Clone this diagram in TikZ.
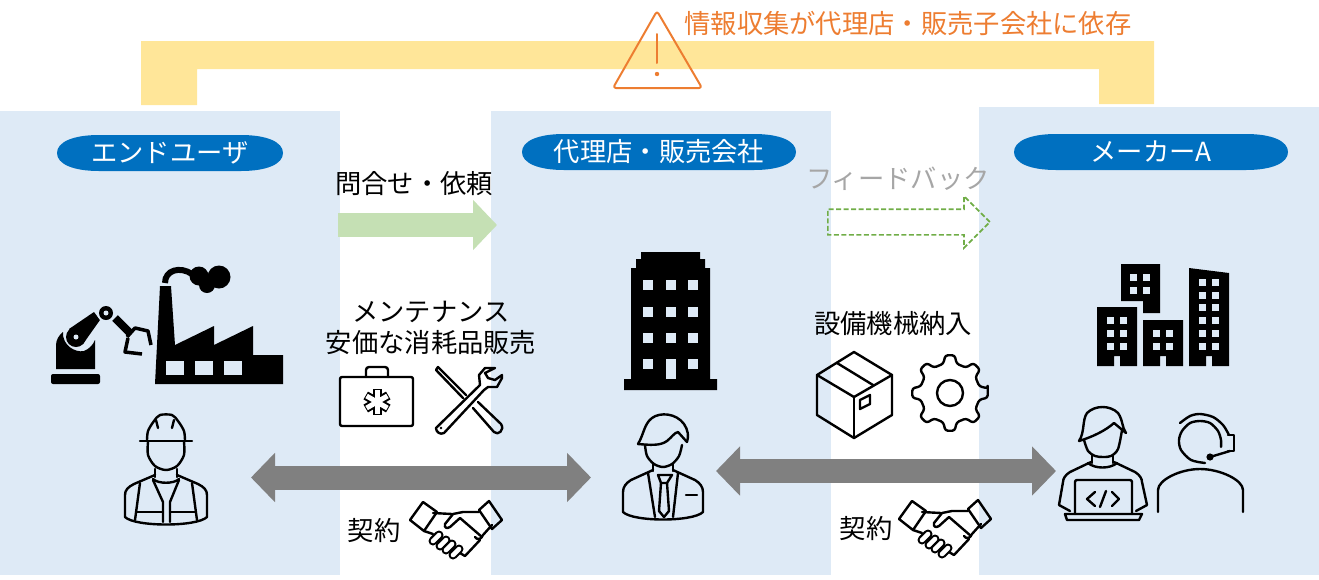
\documentclass[tikz,border=0pt]{standalone}
\usepackage{fontspec}
\setmainfont{Noto Sans CJK JP}
\usetikzlibrary{positioning,arrows.meta,shapes.arrows}
\definecolor{panelblue}{HTML}{DEEAF6}
\definecolor{pillblue}{HTML}{0070C0}
\definecolor{bandyellow}{HTML}{FFE699}
\definecolor{warnorange}{HTML}{ED7D31}
\definecolor{askgreen}{HTML}{C5E0B4}
\definecolor{dashgreen}{HTML}{70AD47}
\definecolor{linkgray}{HTML}{808080}
\definecolor{fadedgray}{HTML}{A6A6A6}
\tikzset{
handshake/.pic={
\draw[iconline] (10,30) -- (23,12) -- (37,22) -- (24,41) -- cycle;
\draw[iconline] (79,20) -- (89,11) -- (102,30) -- (92,39) -- cycle;
\draw[iconline] (33,23) -- (52,24);
\draw[iconline] (79,22) -- (63,22) -- (53,24) -- (45,34) .. controls (44,38) and (47,39) .. (50,37) -- (60,28) -- (82,47);
\draw[iconline] (92,35) -- (83,45) .. controls (81,50) and (77,50) .. (75,47);
\draw[iconline] (80,50) -- (65,66) -- (60,63);
\draw[iconline] (24,41) -- (33,44);
\foreach \fx/\fy in {36/48,43/53,49/57,56/62} {
\draw[line width=9pt,line cap=round] (\fx-3,\fy+3) -- (\fx+3,\fy-3);
\draw[line width=4.6pt,line cap=round,white] (\fx-3,\fy+3) -- (\fx+3,\fy-3);
}
}
}
\begin{document}
\begin{tikzpicture}[
x=1pt, y=-1pt,
node distance = 8pt and 32pt,
panel/.style={rectangle, fill=panelblue, inner sep=0pt, minimum width=340pt, minimum height=464pt},
pill/.style={rectangle, inner sep=0pt, minimum height=36pt, text=white, font=\fontsize{26.3}{31}\selectfont,
path picture={\fill[pillblue] (path picture bounding box.west)
.. controls ([yshift=11pt]path picture bounding box.west) and ([xshift=16pt]path picture bounding box.north west) .. ([xshift=42pt]path picture bounding box.north west)
-- ([xshift=-42pt]path picture bounding box.north east)
.. controls ([xshift=-16pt]path picture bounding box.north east) and ([yshift=11pt]path picture bounding box.east) .. (path picture bounding box.east)
.. controls ([yshift=-11pt]path picture bounding box.east) and ([xshift=-16pt]path picture bounding box.south east) .. ([xshift=-42pt]path picture bounding box.south east)
-- ([xshift=42pt]path picture bounding box.south west)
.. controls ([xshift=16pt]path picture bounding box.south west) and ([yshift=-11pt]path picture bounding box.west) .. (path picture bounding box.west);}},
caption/.style={inner sep=0pt, align=center, font=\fontsize{26.3}{31}\selectfont},
twoway/.style={line width=24pt, linkgray, {Triangle[width=48pt,length=24pt]}-{Triangle[width=48pt,length=24pt]}},
askarrow/.style={line width=24pt, askgreen, -{Triangle[width=49pt,length=24pt]}},
feedarrow/.style={single arrow, draw=dashgreen, line width=1.7pt, dash pattern=on 5pt off 2.5pt, inner xsep=0pt, inner ysep=12pt,
minimum height=162pt, minimum width=50pt, single arrow head extend=13pt},
iconline/.style={line width=2.4pt, line join=round, line cap=round},
warnline/.style={line width=2pt, warnorange, line join=round, line cap=round}]

\useasboundingbox (0,0) rectangle (1319,579);

% panels and the band over them
\node[panel] (userpanel) at (170,343) {};
\node[panel] (dealerpanel) [right = 151pt of userpanel] {};
\node[panel, minimum height=468pt] (makerpanel) at (1149,341) {};
\fill[bandyellow] (141,105) -- (141,41) -- (1154,41) -- (1154,104) -- (1099,104) -- (1099,69) -- (197,69) -- (197,105) -- cycle;

\node[pill, minimum width=226pt] (usertitle) at (170,153) {エンドユーザ};
\node[pill, minimum width=274pt] (dealertitle) at (659,152) {代理店・販売会社};
\node[pill, minimum width=274pt] (makertitle) at (1151,152) {メーカーA};

\node[caption, warnorange] (warntext) at (908,23) {情報収集が代理店・販売子会社に依存};
\node[caption] (asktext) at (414,184) {問合せ・依頼};
\node[caption, fadedgray] (feedtext) at (898,179) {フィードバック};
\node[caption] (maintext) at (431,328) {メンテナンス\\安価な消耗品販売};
\node[caption] (supplytext) at (893,324) {設備機械納入};
\node[caption] (leftdeal) at (374,531) {契約};
\node[caption] (rightdeal) at (866,529) {契約};

% arrows
\coordinate (askstart) at (338,225);
\coordinate (askend) at (497,225);
\draw[askarrow] (askstart) -- (askend);
\node[feedarrow, anchor=tail] (feedback) at (827,222) {};
\coordinate (userlink) at (251,477.5);
\coordinate (dealerleft) at (591,477.5);
\coordinate (dealerright) at (716,471);
\coordinate (makerlink) at (1056,471);
\draw[twoway] (userlink) -- (dealerleft);
\draw[twoway] (dealerright) -- (makerlink);

% warning sign
\draw[warnline, rounded corners=3pt] (657,11) -- (702,88) -- (613,88) -- cycle;
\draw[warnline] (657,34) -- (657,63);
\fill[warnorange] (657,74) circle (2.2pt);

% robot arm
\fill[rounded corners=2pt] (51,384) rectangle (100,374);
\fill (56,369) -- (56,345) .. controls (56,340) and (59,335) .. (63,332) .. controls (62,345) and (75,353) .. (84,351) .. controls (89,349) and (93,345) .. (95,340) -- (95,369) -- cycle;
\fill (69,329) -- (94,312) -- (100,320) -- (83,344) -- cycle;
\fill (76,337) circle (10pt);
\fill[panelblue] (76,337) circle (2.5pt);
\fill[panelblue] (106,313) circle (9pt);
\fill (106,313) circle (7pt);
\fill[panelblue] (106,313) circle (2.5pt);
\draw[line width=8pt] (115,318) -- (130,333);
\draw[line width=3.5pt, line join=round] (127,337) -- (135,328) -- (148,331) -- (151,345);
\draw[line width=3.5pt, line join=round] (128,338) -- (125,352) -- (142,354);

% factory
\fill (155,384) -- (160,286) -- (171,286) -- (175,345) -- (214,326) -- (214,345) -- (253,326) -- (253,355) -- (283,355) -- (283,384) -- cycle;
\foreach \wx in {166,195,224} \fill[panelblue] (\wx,361) rectangle +(18,14);
\draw[line width=6pt] (165,283) .. controls (165,270) and (180,266) .. (192,274);
\fill (199,276) circle (9.5pt);
\fill (219,277) circle (11.5pt);
\fill (207,285) circle (8pt);

% worker
\draw[iconline] plot[smooth] coordinates {(147,441) (148,431) (154,421) (160,415) (172,415) (178,421) (184,431) (185,441)};
\draw[iconline] (140,441) -- (192,441);
\draw[iconline] (158,428) -- (156,420);
\draw[iconline] (172,428) -- (174,420);
\draw[iconline] plot[smooth] coordinates {(148,442) (148,455) (155,466) (166,470) (177,466) (184,455) (184,442)};
\draw[iconline] (155,469) -- (155,477);
\draw[iconline] (177,469) -- (177,477);
\draw[iconline] (155,475) -- (134,484) .. controls (128,487) and (125,490) .. (125,495) -- (125,517) .. controls (135,527) and (197,527) .. (207,517) -- (207,495) .. controls (207,490) and (204,487) .. (198,484) -- (177,475);
\draw[iconline] (153,479) .. controls (158,484) and (174,484) .. (179,479);
\draw[iconline] (153,480) -- (163,502) -- (163,522);
\draw[iconline] (179,480) -- (170,502) -- (170,522);
\draw[iconline] (140,483) -- (135,520);
\draw[iconline] (192,483) -- (197,520);
\draw[iconline] (137,512) -- (163,512);
\draw[iconline] (170,512) -- (195,512);

% office tower
\fill (641,252) -- (700,252) -- (700,259) -- (705,259) -- (705,268) -- (710,268) -- (710,379) -- (717,379) -- (717,390) -- (624,390) -- (624,379) -- (631,379) -- (631,268) -- (636,268) -- (636,259) -- (641,259) -- cycle;
\foreach \wx in {643,666,688} \foreach \wy in {280,307,333,359} \fill[panelblue] (\wx,\wy) rectangle +(10,10);
\fill[panelblue] (666,369) rectangle (676,379);

% salesman
\draw[iconline] (638,444) .. controls (644,434) and (644,424) .. (652,418) .. controls (660,412) and (676,413) .. (684,424) .. controls (688,430) and (689,436) .. (687,442);
\draw[iconline] (638,444) .. controls (650,445) and (660,446) .. (667,441) .. controls (672,437) and (674,433) .. (678,432) -- (687,442);
\draw[iconline] plot[smooth] coordinates {(645,445) (647,456) (654,464) (663,467) (672,464) (679,456) (682,445)};
\draw[iconline] (653,464) -- (653,471);
\draw[iconline] (673,464) -- (673,471);
\draw[iconline] (653,470) -- (631,480) .. controls (626,483) and (623,487) .. (623,492) -- (623,512) .. controls (633,522) and (693,522) .. (703,512) -- (703,492) .. controls (703,487) and (700,483) .. (695,480) -- (673,470);
\draw[iconline] (648,473) -- (655,517);
\draw[iconline] (678,473) -- (673,517);
\draw[iconline] (658,475) -- (672,475) -- (667,483) -- (661,483) -- cycle;
\draw[iconline] (661,483) -- (659,511) -- (664,517) -- (669,511) -- (667,483);
\draw[iconline] (686,495) -- (697,495);

% toolbox and tools
\draw[iconline, rounded corners=2pt] (340,377) rectangle (413,426);
\draw[iconline, rounded corners=3pt] (366,377) -- (366,367) -- (388,367) -- (388,377);
\foreach \a in {30,90,150} \draw[line width=9pt] ([shift={(\a:13pt)}]377,402) -- ([shift={(\a+180:13pt)}]377,402);
\foreach \a in {30,90,150} \draw[line width=5pt, white] ([shift={(\a:12pt)}]377,402) -- ([shift={(\a+180:12pt)}]377,402);
\draw[iconline] (436,428) .. controls (436,432) and (440,435) .. (444,433) -- (484,390) -- (488,387) -- (497,387) -- (502,378) -- (502,375) -- (495,380) -- (488,378) -- (485,373) -- (495,368) -- (485,368) -- (479,375) -- (480,385) -- cycle;
\fill (441,428) circle (1.4pt);
\draw[iconline] (436,370) -- (438,367) -- (466,395);
\draw[iconline] (436,370) -- (463,398);
\draw[iconline] (478,402) -- (501,424) .. controls (505,430) and (498,436) .. (494,432) -- (473,408);

% handshakes
\pic at (400,490) {handshake};
\pic at (889,489) {handshake};

% parcel and gear
\draw[iconline] (854,352) -- (892,375) -- (892,415) -- (854,438) -- (817,415) -- (817,375) -- cycle;
\draw[iconline] (817,375) -- (854,397) -- (892,375);
\draw[iconline] (854,397) -- (854,438);
\draw[iconline] (837,363) -- (873,385);
\draw[iconline] (860,400) -- (870,395) -- (870,404) -- (860,409) -- cycle;
\begin{scope}[shift={(950,393)}]
\draw[iconline, rounded corners=2.5pt] (-7:38) \foreach \a in {0,45,...,315} { -- (\a+7:38) -- (\a+13:30) -- (\a+32:30) -- (\a+38:38) } -- cycle;
\draw[iconline] (0,0) circle (13pt);
\end{scope}

% maker buildings
\fill (1121,264) -- (1160,264) -- (1160,313) -- (1143,313) -- (1143,301) -- (1121,301) -- cycle;
\fill (1097,307) -- (1137,307) -- (1137,366) -- (1120,366) -- (1120,356) -- (1114,356) -- (1114,366) -- (1097,366) -- cycle;
\fill (1143,320) -- (1183,320) -- (1183,366) -- (1166,366) -- (1166,356) -- (1160,356) -- (1160,366) -- (1143,366) -- cycle;
\fill (1189,268) -- (1229,273) -- (1229,366) -- (1212,366) -- (1212,356) -- (1206,356) -- (1206,366) -- (1189,366) -- cycle;
\foreach \wx in {1130,1143} \foreach \wy in {274,287} \fill[panelblue] (\wx,\wy) rectangle +(7,6.5);
\foreach \wx in {1107,1120} \foreach \wy in {317,330,343} \fill[panelblue] (\wx,\wy) rectangle +(7,6.5);
\foreach \wx in {1153,1166} \foreach \wy in {330,343} \fill[panelblue] (\wx,\wy) rectangle +(7,6.5);
\foreach \wx in {1199,1212} \foreach \wy in {279,292,304,317,330,343} \fill[panelblue] (\wx,\wy) rectangle +(7,6.5);

% programmer
\draw[iconline] (1079,441) .. controls (1085,432) and (1082,420) .. (1087,413) .. controls (1095,405) and (1110,405) .. (1118,413) .. controls (1123,420) and (1122,428) .. (1126,433) -- (1114,423) .. controls (1105,431) and (1092,437) .. (1079,441);
\draw[iconline] plot[smooth] coordinates {(1084,440) (1088,451) (1095,456) (1103,457) (1111,456) (1118,449) (1122,430)};
\draw[iconline] (1092,455) -- (1092,463);
\draw[iconline] (1113,455) -- (1113,463);
\draw[iconline] (1088,463) .. controls (1095,469) and (1110,469) .. (1117,463);
\draw[iconline] (1091,462) -- (1070,472) .. controls (1065,475) and (1063,479) .. (1063,482) -- (1059,505) -- (1070,511);
\draw[iconline] (1114,462) -- (1135,472) .. controls (1140,475) and (1142,479) .. (1142,482) -- (1147,505) -- (1136,511);
\draw[iconline, rounded corners=2pt] (1075,514) -- (1075,480) -- (1132,480) -- (1132,514);
\draw[iconline] (1065,514) -- (1142,514) -- (1139,520) -- (1067,520) -- cycle;
\draw[iconline] (1095,492) -- (1087,499) -- (1095,506);
\draw[iconline] (1112,492) -- (1119,499) -- (1112,506);
\draw[iconline] (1106,491) -- (1100,507);

% headset agent
\draw[iconline] plot[smooth] coordinates {(1205,463) (1191,460) (1181,450) (1179,440) (1182,431) (1190,423) (1200,421) (1210,423) (1218,431) (1221,440) (1221,447)};
\draw[iconline] plot[smooth] coordinates {(1180,423) (1190,416) (1200,414) (1213,417) (1223,425) (1229,435)};
\draw[iconline] (1228,435) -- (1234,435) -- (1234,451) -- (1228,451);
\draw[iconline] (1230,451) -- (1210,457);
\fill (1210,457) circle (3.6pt);
\draw[iconline] (1158,512) -- (1158,490) .. controls (1158,480) and (1180,469) .. (1200,469) .. controls (1220,469) and (1243,480) .. (1243,490) -- (1243,512);
\end{tikzpicture}
\end{document}
